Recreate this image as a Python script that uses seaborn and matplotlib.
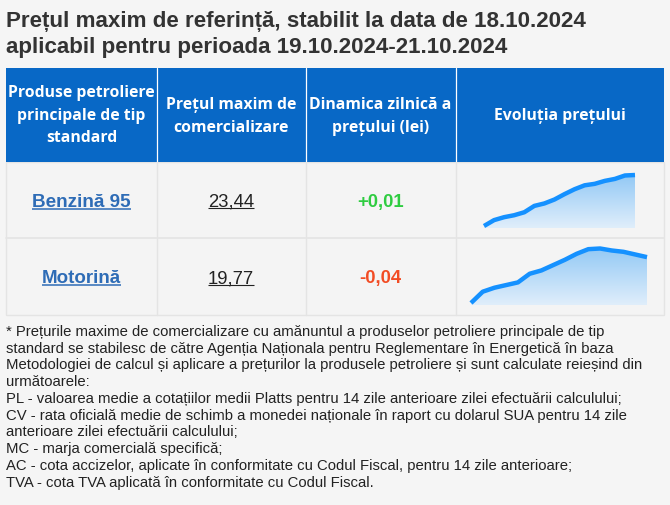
import numpy as np
import pandas as pd
import matplotlib
matplotlib.use("Agg")
import matplotlib.pyplot as plt
import seaborn as sns
from matplotlib.patches import Rectangle
from matplotlib.colors import LinearSegmentedColormap

# ---------------- data ----------------
title_lines = [
    "Prețul maxim de referință, stabilit la data de 18.10.2024",
    "aplicabil pentru perioada 19.10.2024-21.10.2024",
]
header_labels = [
    ["Produse petroliere", "principale de tip", "standard"],
    ["Prețul maxim de", "comercializare"],
    ["Dinamica zilnică a", "prețului (lei)"],
    ["Evoluția prețului"],
]
products = ["Benzină 95", "Motorină"]
max_prices = ["23,44", "19,77"]
daily_change = [0.01, -0.04]
benzina_trend = [22.40, 22.52, 22.58, 22.62, 22.68, 22.81, 22.86, 22.94,
                 23.05, 23.15, 23.23, 23.26, 23.32, 23.36, 23.43, 23.44]
motorina_trend = [19.08, 19.25, 19.31, 19.35, 19.39, 19.52, 19.57, 19.65,
                  19.73, 19.82, 19.89, 19.90, 19.87, 19.85, 19.81, 19.77]
footnote_lines = [
    "* Prețurile maxime de comercializare cu amănuntul a produselor petroliere principale de tip",
    "standard se stabilesc de către Agenția Naționala pentru Reglementare în Energetică în baza",
    "Metodologiei de calcul și aplicare a prețurilor la produsele petroliere și sunt calculate reieșind din",
    "următoarele:",
    "PL - valoarea medie a cotațiilor medii Platts pentru 14 zile anterioare zilei efectuării calculului;",
    "CV - rata oficială medie de schimb a monedei naționale în raport cu dolarul SUA pentru 14 zile",
    "anterioare zilei efectuării calculului;",
    "MC - marja comercială specifică;",
    "AC - cota accizelor, aplicate în conformitate cu Codul Fiscal, pentru 14 zile anterioare;",
    "TVA - cota TVA aplicată în conformitate cu Codul Fiscal.",
]

# ---------------- style ----------------
sns.set_style("white")
plt.rcParams["font.family"] = ["Liberation Sans", "DejaVu Sans"]

W, H = 670, 505
BG = "#f5f5f5"
CELL = "#f4f4f4"
GRID = "#e4e4e4"
BLUE = "#0868c6"
LINK = "#2e6cb6"
GREEN = "#2ecc40"
RED = "#f24c24"
LINE = "#1591ff"

fig = plt.figure(figsize=(W / 100, H / 100), dpi=100, facecolor=BG)
ax = fig.add_axes([0, 0, 1, 1])
ax.set_xlim(0, W)
ax.set_ylim(H, 0)
ax.axis("off")
renderer = fig.canvas.get_renderer()


def px_width(t):
    bb = t.get_window_extent(renderer=renderer)
    return bb.width


def fit_text(x, y, s, target_w, size0, **kw):
    t = ax.text(x, y, s, fontsize=size0, **kw)
    w = px_width(t)
    t.set_fontsize(size0 * target_w / w)
    return t


def underline(t, offset, lw, color):
    bb = t.get_window_extent(renderer=renderer)
    inv = ax.transData.inverted()
    (x0, _), (x1, _) = inv.transform([(bb.x0, 0), (bb.x1, 0)])
    yb = t.get_position()[1] + offset
    ax.plot([x0, x1], [yb, yb], color=color, lw=lw, solid_capstyle="butt")


# ---------------- title ----------------
tcol = "#333333"
t1 = fit_text(6.4, 27.3, title_lines[0], 583, 14, fontweight="bold",
              color=tcol, va="baseline", ha="left")
ax.text(6.4, 53.5, title_lines[1], fontsize=t1.get_fontsize(), fontweight="bold",
        color=tcol, va="baseline", ha="left")

# ---------------- table ----------------
x_left, x_right = 6.4, 663.5
col_x = [x_left, 156.5, 305.5, 455.5, x_right]
y_head_top, y_head_bot = 68, 161.5
row_y = [161.5, 238, 314.5]

ax.add_patch(Rectangle((x_left, y_head_bot), x_right - x_left, row_y[-1] - y_head_bot,
                       facecolor=CELL, edgecolor=GRID, lw=1.0))
ax.add_patch(Rectangle((x_left, y_head_top), x_right - x_left, y_head_bot - y_head_top,
                       facecolor=BLUE, edgecolor="none"))
for xc in col_x[1:-1]:
    ax.plot([xc, xc], [y_head_top, y_head_bot], color="white", lw=0.9)
    ax.plot([xc, xc], [y_head_bot, row_y[-1]], color=GRID, lw=1.0)
ax.plot([x_left, x_right], [row_y[1], row_y[1]], color=GRID, lw=1.2)

centers = [(col_x[i] + col_x[i + 1]) / 2 for i in range(4)]
head_base = {3: [97.3, 119.8, 142.3], 2: [109.3, 131.8], 1: [120.3]}

hfont = dict(family=["Open Sans", "DejaVu Sans"], fontweight="bold",
             color="white", ha="center", va="baseline")
h0 = fit_text(centers[0], head_base[3][0], header_labels[0][0], 145, 11, **hfont)
hsize = h0.get_fontsize()
for ci, lines in enumerate(header_labels):
    ys = head_base[len(lines)]
    for li, s in enumerate(lines):
        if ci == 0 and li == 0:
            continue
        ax.text(centers[ci], ys[li], s, fontsize=hsize, **hfont)

# rows
row_base = [206.8, 283.3]
for r in range(len(products)):
    yb = row_base[r]
    tp = fit_text(centers[0], yb, products[r],
                  98 if r == 0 else 79, 13, fontweight="bold", color=LINK,
                  ha="center", va="baseline")
    underline(tp, 1.8, 1.1, LINK)
    tv = ax.text(centers[1], yb, max_prices[r], fontsize=13.3, color="#222222",
                 ha="center", va="baseline")
    underline(tv, 1.6, 0.8, "#222222")
    ch = daily_change[r]
    s = ("+" if ch > 0 else "") + f"{ch:.2f}".replace(".", ",")
    ax.text(centers[2], yb, s, fontsize=13.3, fontweight="bold",
            color=GREEN if ch > 0 else RED, ha="center", va="baseline")

# ---------------- sparklines ----------------
cmap = LinearSegmentedColormap.from_list("fade", ["#e0eefb", "#93c9f5"])


def sparkline(vals, x0, x1, ytop, ymin_px, ybot):
    sax = fig.add_axes([x0 / W, 1 - ybot / H, (x1 - x0) / W, (ybot - ytop) / H])
    n = len(vals)
    df = pd.DataFrame({"day": np.arange(1, n + 1), "price": vals})
    vmax, vmin = max(vals), min(vals)
    span = vmax - vmin
    lo = vmin - span * (ybot - ymin_px) / (ymin_px - ytop)
    poly = sax.fill_between(df["day"], df["price"], lo, color="none", lw=0)
    grad = np.linspace(0, 1, 256).reshape(-1, 1)
    im = sax.imshow(grad, extent=(1, n, lo, vmax), aspect="auto", cmap=cmap,
                    origin="lower", zorder=1)
    im.set_clip_path(poly.get_paths()[0], transform=sax.transData)
    sns.lineplot(data=df, x="day", y="price", ax=sax, color=LINE, lw=3.2,
                 zorder=3, clip_on=False)
    for l in sax.lines:
        l.set_solid_joinstyle("round")
        l.set_solid_capstyle("butt")
    sax.set_xlim(1, n)
    sax.set_ylim(lo, vmax)
    sax.axis("off")


sparkline(benzina_trend, 484, 635, 175, 226, 228)
sparkline(motorina_trend, 471, 647, 248.5, 303, 305)

# ---------------- footnote ----------------
f3 = fit_text(6.4, 335.7 + 2 * 16.8, footnote_lines[2], 640, 10, color="#222222",
              ha="left", va="baseline")
fsize = f3.get_fontsize()
for i, s in enumerate(footnote_lines):
    if i == 2:
        continue
    ax.text(6.4, 335.7 + i * 16.8, s, fontsize=fsize, color="#222222",
            ha="left", va="baseline")

fig.savefig("out.png", dpi=100, facecolor=BG)
